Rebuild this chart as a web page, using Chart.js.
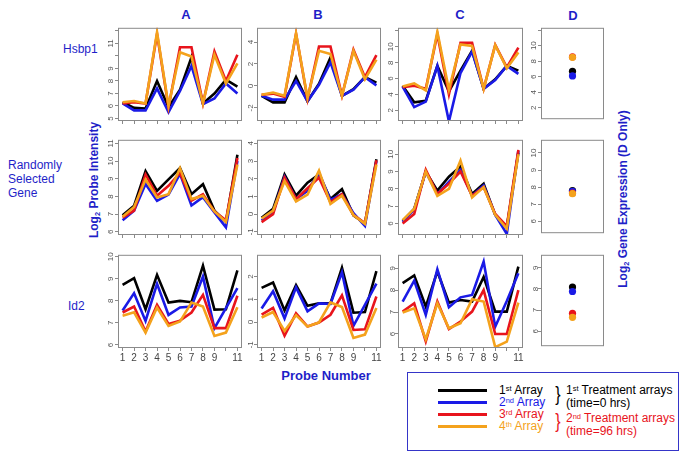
<!DOCTYPE html>
<html>
<head>
<meta charset="utf-8">
<script src="https://cdn.jsdelivr.net/npm/chart.js@4.4.1/dist/chart.umd.min.js"></script>
<style>
  body { margin: 0; background: #fff; font-family: "Liberation Sans", Arial, sans-serif; }
  #wrap { position: relative; width: 685px; height: 452px; overflow: hidden; }
  #wrap canvas { position: absolute; }
  .t { position: absolute; white-space: nowrap; color: #1f1fc8; line-height: 1; }
  .c { transform: translate(-50%, -50%); }
  .b { font-weight: bold; }
  .rot { transform: translate(-50%, -50%) rotate(-90deg); }
  sub { font-size: 0.62em; vertical-align: -0.25em; line-height: 0; }
  sup { font-size: 0.62em; vertical-align: 0.45em; line-height: 0; }
  #legend { position: absolute; left: 407px; top: 372px; width: 270px; height: 77px; border: 1px solid #3535c8; }
  .ln { position: absolute; left: 438px; width: 49px; height: 3px; }
  .lg { position: absolute; font-size: 12px; white-space: nowrap; line-height: 1; transform: translateY(-50%); }
  .brace { position: absolute; font-size: 20px; line-height: 1; transform: translate(-50%, -50%) scaleX(0.8); }
</style>
</head>
<body>
<div id="wrap">
  <div class="t b c" style="left:186px;top:14px;font-size:13px;">A</div>
  <div class="t b c" style="left:318px;top:14px;font-size:13px;">B</div>
  <div class="t b c" style="left:460px;top:14px;font-size:13px;">C</div>
  <div class="t b c" style="left:573px;top:15px;font-size:13px;">D</div>

  <div class="t" style="left:63px;top:43px;font-size:12px;">Hsbp1</div>
  <div class="t" style="left:8px;top:158px;font-size:12px;line-height:14px;">Randomly<br>Selected<br>Gene</div>
  <div class="t" style="left:68px;top:300px;font-size:12px;">Id2</div>

  <div class="t b rot" style="left:94px;top:180px;font-size:12px;">Log<sub>2</sub> Probe Intensity</div>
  <div class="t b rot" style="left:623px;top:199px;font-size:12px;">Log<sub>2</sub> Gene Expression (D Only)</div>
  <div class="t b c" style="left:326px;top:375px;font-size:13px;">Probe Number</div>

  <div id="legend"></div>
  <div class="ln" style="top:389px;background:#000;"></div>
  <div class="ln" style="top:401px;background:#1a1ae6;"></div>
  <div class="ln" style="top:413px;background:#e8141c;"></div>
  <div class="ln" style="top:425px;background:#f4a21c;"></div>
  <div class="lg" style="left:499px;top:390px;color:#000;">1<sup>st</sup> Array</div>
  <div class="lg" style="left:499px;top:402px;color:#1a1ae6;">2<sup>nd</sup> Array</div>
  <div class="lg" style="left:499px;top:414px;color:#e8141c;">3<sup>rd</sup> Array</div>
  <div class="lg" style="left:499px;top:426px;color:#f4a21c;">4<sup>th</sup> Array</div>
  <div class="brace" style="left:558px;top:394px;color:#000;">}</div>
  <div class="brace" style="left:558px;top:421px;color:#e8141c;">}</div>
  <div class="lg" style="left:566px;top:390px;color:#000;">1<sup>st</sup> Treatment arrays</div>
  <div class="lg" style="left:566px;top:403px;color:#000;">(time=0 hrs)</div>
  <div class="lg" style="left:566px;top:418px;color:#e8141c;">2<sup>nd</sup> Treatment arrays</div>
  <div class="lg" style="left:566px;top:431px;color:#e8141c;">(time=96 hrs)</div>
</div>
<script>
// probes on the x axis
const probes = [1, 2, 3, 4, 5, 6, 7, 8, 9, 10, 11];
const probeLabels = ['1', '2', '3', '4', '5', '6', '7', '8', '9', '', '11'];
const arrays = ['1st Array', '2nd Array', '3rd Array', '4th Array'];
const colors = ['#000000', '#1a1ae6', '#e8141c', '#f4a21c'];

// each panel: [1st, 2nd, 3rd, 4th array]
const hsbp1A = [
  [6.3, 5.85, 5.8, 8.0, 5.9, 7.3, 9.9, 6.2, 7.0, 8.1, 7.55],
  [6.2, 5.65, 5.65, 7.4, 5.5, 7.2, 9.2, 6.15, 6.6, 7.8, 7.0],
  [6.2, 6.3, 6.2, 11.75, 5.9, 10.7, 10.7, 6.2, 10.35, 8.0, 10.1],
  [6.3, 6.4, 6.2, 11.9, 6.0, 10.3, 9.95, 6.2, 10.1, 7.8, 9.4]
];
const hsbp1B = [
  [-0.9, -1.5, -1.5, 0.8, -1.4, 0.2, 2.6, -0.9, -0.3, 0.8, 0.3],
  [-0.9, -1.25, -1.25, 0.45, -1.4, 0.1, 2.15, -0.9, -0.35, 0.8, 0.05],
  [-0.8, -0.7, -1.0, 4.75, -1.2, 3.6, 3.6, -0.9, 3.3, 0.8, 2.8],
  [-0.8, -0.6, -0.9, 4.8, -1.1, 3.2, 2.9, -0.9, 3.2, 0.6, 2.4]
];
const hsbp1C = [
  [5.1, 3.0, 3.2, 7.6, 4.4, 7.0, 9.5, 4.7, 5.9, 7.6, 7.0],
  [5.0, 2.4, 3.1, 7.6, 0.6, 6.7, 9.4, 4.7, 5.8, 7.6, 6.6],
  [4.9, 5.1, 4.7, 11.6, 4.0, 10.5, 10.5, 4.7, 10.25, 7.4, 9.9],
  [5.0, 5.4, 4.5, 11.9, 4.6, 10.3, 10.1, 4.7, 10.2, 7.3, 9.3]
];
const hsbp1D = [6.7, 6.1, 8.55, 8.5];

const randomA = [
  [6.93, 7.48, 9.43, 8.31, 8.96, 9.6, 8.13, 8.69, 7.2, 6.56, 10.35],
  [6.66, 7.2, 8.7, 7.75, 8.1, 9.28, 7.49, 7.96, 7.1, 6.25, 10.0],
  [6.8, 7.2, 9.24, 8.04, 8.6, 9.33, 7.76, 8.13, 7.15, 6.65, 10.17],
  [6.85, 7.4, 8.96, 7.94, 8.13, 9.6, 7.85, 8.04, 7.15, 6.56, 9.8]
];
const randomB = [
  [-0.2, 0.3, 2.24, 1.04, 1.78, 2.24, 0.85, 1.41, -0.07, -0.53, 3.1],
  [-0.35, 0.1, 2.1, 0.85, 1.31, 2.33, 0.8, 1.13, 0.05, -0.67, 3.0],
  [-0.45, 0.0, 2.06, 0.85, 1.46, 2.06, 0.67, 1.13, -0.05, -0.5, 3.05],
  [-0.25, 0.2, 1.87, 0.72, 1.1, 2.46, 0.57, 1.04, -0.05, -0.55, 2.8]
];
const randomC = [
  [6.15, 6.85, 9.0, 7.9, 8.7, 9.3, 7.7, 8.3, 6.5, 5.8, 10.1],
  [6.1, 6.8, 9.0, 7.7, 8.4, 9.1, 7.6, 8.2, 6.5, 5.4, 10.2],
  [6.0, 6.55, 9.1, 7.7, 8.3, 9.0, 7.6, 8.1, 6.55, 5.85, 10.25],
  [6.2, 6.85, 9.0, 7.6, 8.0, 9.63, 7.5, 8.1, 6.5, 5.7, 10.0]
];
const randomD = [7.8, 7.75, 7.66, 7.62];

const id2A = [
  [8.73, 9.03, 7.62, 9.18, 7.92, 8.0, 7.94, 9.6, 7.6, 7.62, 9.38],
  [7.56, 8.35, 7.09, 8.77, 7.36, 7.7, 7.74, 9.1, 6.76, 7.67, 8.58],
  [7.47, 7.74, 6.61, 7.82, 6.95, 7.1, 7.47, 8.27, 6.76, 6.76, 8.23],
  [7.32, 7.48, 6.56, 7.7, 6.86, 7.06, 7.92, 7.74, 6.41, 6.56, 7.71]
];
const id2B = [
  [1.5, 1.73, 0.51, 1.62, 0.71, 0.82, 0.82, 2.38, 0.41, 0.44, 2.23],
  [0.59, 1.35, 0.16, 1.52, 0.47, 0.82, 0.8, 2.18, -0.17, 0.75, 1.68],
  [0.32, 0.62, -0.6, 0.38, -0.2, -0.02, 0.32, 1.17, -0.35, -0.32, 1.12],
  [0.2, 0.44, -0.39, 0.3, -0.2, -0.02, 0.86, 0.66, -0.7, -0.55, 0.62]
];
const id2C = [
  [8.32, 8.67, 7.25, 8.85, 7.43, 7.55, 7.48, 8.6, 7.02, 7.02, 9.07],
  [7.48, 8.43, 6.87, 8.95, 7.22, 7.67, 7.78, 9.3, 6.33, 7.5, 8.77],
  [7.02, 7.4, 5.66, 7.48, 6.22, 6.57, 7.02, 8.0, 6.0, 6.0, 8.0],
  [6.98, 7.17, 5.76, 7.4, 6.26, 6.49, 7.58, 7.48, 5.4, 5.65, 7.43]
];
const id2D = [8.09, 7.88, 6.85, 6.66];

// y tick values and their labels (R drops labels that would overlap)
const ticksHsbp1A = [5, 6, 7, 8, 9, 10, 11, 12];
const labelsHsbp1A = ['5', '6', '7', '8', '9', '', '11', ''];
const ticksHsbp1B = [-2, 0, 2, 4];
const ticksHsbp1CD = [2, 4, 6, 8, 10, 12];
const labelsHsbp1CD = ['2', '4', '6', '8', '10', ''];
const ticksRandomA = [6, 7, 8, 9, 10, 11];
const ticksRandomB = [-1, 0, 1, 2, 3, 4];
const ticksRandomCD = [6, 7, 8, 9, 10];
const ticksId2A = [6, 7, 8, 9, 10];
const ticksId2B = [-1, 0, 1, 2];
const ticksId2CD = [6, 7, 8, 9];

const cols = { A: [118, 242], B: [257, 381], C: [398, 523], D: [541, 605] };
const rows = [[26, 121], [138, 235], [253, 348]];
const YW = 24;
const axisGrey = '#8a8a8a';

const boxPlugin = {
  id: 'box',
  afterDatasetsDraw(chart) {
    const a = chart.chartArea, ctx = chart.ctx;
    ctx.save();
    ctx.strokeStyle = axisGrey;
    ctx.lineWidth = 1;
    ctx.strokeRect(a.left + 0.5, a.top + 0.5, a.width - 1, a.height - 1);
    ctx.restore();
  }
};

function panel(col, row, range, yTicks, yLabels, series) {
  const [x0, x1] = cols[col], [y0, y1] = rows[row];
  const dots = col === 'D';
  const xh = dots ? 3 : (row === 2 ? 20 : 8);
  const w = YW + (x1 - x0) + 3, h = 3 + (y1 - y0) + xh;
  const cv = document.createElement('canvas');
  cv.width = w; cv.height = h;
  cv.style.left = (x0 - YW) + 'px';
  cv.style.top = (y0 - 3) + 'px';
  cv.style.width = w + 'px'; cv.style.height = h + 'px';
  document.getElementById('wrap').appendChild(cv);

  const datasets = series.map((s, k) => dots ? {
    type: 'scatter',
    label: arrays[k],
    data: [{ x: 1, y: s }],
    backgroundColor: colors[k],
    borderWidth: 0,
    pointRadius: 3.6,
    order: 4 - k
  } : {
    type: 'line',
    label: arrays[k],
    data: probes.map((p, i) => ({ x: p, y: s[i] })),
    borderColor: colors[k],
    borderWidth: 2.6,
    pointRadius: 0,
    tension: 0,
    fill: false,
    order: 4 - k
  });

  new Chart(cv, {
    type: dots ? 'scatter' : 'line',
    data: { datasets },
    options: {
      responsive: false,
      animation: false,
      events: [],
      layout: { padding: { top: 3, right: 3, left: 0, bottom: 0 } },
      plugins: { legend: { display: false }, tooltip: { enabled: false } },
      scales: {
        x: {
          type: 'linear',
          min: dots ? 0 : 0.6,
          max: dots ? 2 : 11.4,
          afterBuildTicks: s => { s.ticks = (dots ? [] : probes).map(v => ({ value: v })); },
          afterFit: s => { s.height = xh; },
          border: { display: false },
          grid: { display: !dots, drawOnChartArea: false, tickLength: 3, color: axisGrey },
          ticks: {
            display: row === 2 && !dots,
            autoSkip: false,
            maxRotation: 0,
            padding: 1,
            color: '#444',
            font: { size: 10, family: '"Liberation Sans", Arial, sans-serif' },
            callback: (v, i) => probeLabels[i]
          }
        },
        y: {
          type: 'linear',
          min: range[0],
          max: range[1],
          afterBuildTicks: s => { s.ticks = yTicks.map(v => ({ value: v })); },
          afterFit: s => { s.width = YW; },
          border: { display: false },
          grid: { drawOnChartArea: false, tickLength: 3, color: axisGrey },
          ticks: {
            autoSkip: false,
            minRotation: 90,
            maxRotation: 90,
            crossAlign: 'center',
            padding: 0,
            color: '#555',
            font: { size: 8, family: '"Liberation Sans", Arial, sans-serif' },
            callback: (v, i) => yLabels ? yLabels[i] : String(v)
          }
        }
      }
    },
    plugins: [boxPlugin]
  });
}

panel('A', 0, [4.8, 12.25], ticksHsbp1A, labelsHsbp1A, hsbp1A);
panel('B', 0, [-3.2, 5.3], ticksHsbp1B, null, hsbp1B);
panel('C', 0, [0.65, 12.4], ticksHsbp1CD, labelsHsbp1CD, hsbp1C);
panel('D', 0, [0.52, 12.3], ticksHsbp1CD, labelsHsbp1CD, hsbp1D);

panel('A', 1, [5.82, 11.2], ticksRandomA, null, randomA);
panel('B', 1, [-1.18, 4.2], ticksRandomB, null, randomB);
panel('C', 1, [5.34, 10.83], ticksRandomCD, null, randomC);
panel('D', 1, [5.31, 10.77], ticksRandomCD, null, randomD);

panel('A', 2, [5.86, 10.09], ticksId2A, null, id2A);
panel('B', 2, [-1.14, 2.95], ticksId2B, null, id2B);
panel('C', 2, [5.36, 9.61], ticksId2CD, null, id2C);
panel('D', 2, [5.3, 9.61], ticksId2CD, null, id2D);
</script>
</body>
</html>
